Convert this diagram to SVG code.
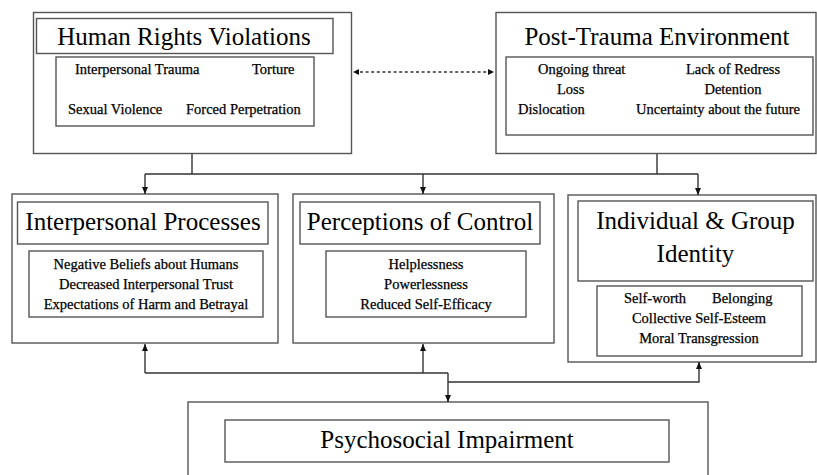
<svg xmlns="http://www.w3.org/2000/svg" width="817" height="475" viewBox="0 0 817 475">
<style>
.box{fill:none;stroke:#555;stroke-width:1.4}
.ln{fill:none;stroke:#333;stroke-width:1.4}
.dot{fill:none;stroke:#333;stroke-width:1.6;stroke-dasharray:3 2.6}
text{font-family:"Liberation Serif","Times New Roman",serif;fill:#000}
.t{font-size:25px;text-anchor:middle}
.s{font-size:14.5px;stroke:#000;stroke-width:0.25}
.c{text-anchor:middle}
</style>
<defs>
<marker id="ah" markerWidth="8" markerHeight="8" refX="7" refY="4" orient="auto" markerUnits="userSpaceOnUse">
<path d="M0,1 L7,4 L0,7 Z" fill="#111"/>
</marker>
</defs>
<rect width="817" height="475" fill="#fff"/>
<g id="human-rights-violations">
<rect class="box" x="33.5" y="12.5" width="318" height="141"/>
<rect class="box" x="36.5" y="18.5" width="296.5" height="35"/>
<text class="t" x="184" y="45">Human Rights Violations</text>
<rect class="box" x="56" y="57" width="258" height="69"/>
<text class="s" x="75" y="74">Interpersonal Trauma</text>
<text class="s" x="252" y="74">Torture</text>
<text class="s" x="68" y="114">Sexual Violence</text>
<text class="s" x="186" y="114">Forced Perpetration</text>
</g>
<g id="post-trauma-environment">
<rect class="box" x="496" y="12.5" width="320" height="141"/>
<text class="t" x="657" y="45">Post-Trauma Environment</text>
<rect class="box" x="506" y="57" width="307" height="78"/>
<text class="s" x="538" y="74">Ongoing threat</text>
<text class="s" x="557" y="94">Loss</text>
<text class="s" x="518" y="114">Dislocation</text>
<text class="s c" x="733" y="74">Lack of Redress</text>
<text class="s c" x="733" y="94">Detention</text>
<text class="s c" x="718" y="114">Uncertainty about the future</text>
</g>
<g id="interpersonal-processes">
<rect class="box" x="12" y="194" width="266" height="149"/>
<rect class="box" x="17.5" y="202" width="250.5" height="42"/>
<text class="t" x="143" y="230">Interpersonal Processes</text>
<rect class="box" x="29" y="251" width="234" height="66"/>
<text class="s c" x="146" y="269">Negative Beliefs about Humans</text>
<text class="s c" x="146" y="289">Decreased Interpersonal Trust</text>
<text class="s c" x="146" y="309">Expectations of Harm and Betrayal</text>
</g>
<g id="perceptions-of-control">
<rect class="box" x="293" y="194" width="261" height="149"/>
<rect class="box" x="300" y="202" width="240" height="42"/>
<text class="t" x="420" y="230">Perceptions of Control</text>
<rect class="box" x="326" y="251" width="200" height="66"/>
<text class="s c" x="426" y="269">Helplessness</text>
<text class="s c" x="426" y="289">Powerlessness</text>
<text class="s c" x="426" y="309">Reduced Self-Efficacy</text>
</g>
<g id="individual-group-identity">
<rect class="box" x="568" y="195" width="248" height="167"/>
<rect class="box" x="578" y="201" width="235" height="80"/>
<text class="t" x="695.5" y="229">Individual &amp; Group</text>
<text class="t" x="695.5" y="262">Identity</text>
<rect class="box" x="597" y="286" width="205" height="70"/>
<text class="s" x="624" y="303">Self-worth</text>
<text class="s" x="712" y="303">Belonging</text>
<text class="s c" x="699" y="323">Collective Self-Esteem</text>
<text class="s c" x="699" y="343">Moral Transgression</text>
</g>
<g id="psychosocial-impairment">
<rect class="box" x="188" y="402" width="520" height="90"/>
<rect class="box" x="225" y="420" width="444" height="42"/>
<text class="t" x="447" y="448">Psychosocial Impairment</text>
</g>
<g id="connectors">
<line class="dot" x1="360" y1="72" x2="487" y2="72"/>
<path d="M359,72 L353,69 L353,75 Z" transform="rotate(180 356 72)" fill="#111"/>
<path d="M488,69 L494,72 L488,75 Z" fill="#111"/>
<path class="ln" d="M192,154 V174 M657,154 V174 M145,174 H698"/>
<path class="ln" d="M145,174 V194" marker-end="url(#ah)"/>
<path class="ln" d="M423,174 V194" marker-end="url(#ah)"/>
<path class="ln" d="M698,174 V195" marker-end="url(#ah)"/>
<path class="ln" d="M145,373 V344" marker-end="url(#ah)"/>
<path class="ln" d="M423,373 V344" marker-end="url(#ah)"/>
<path class="ln" d="M145,373 H448"/>
<path class="ln" d="M448,373 V402" marker-end="url(#ah)"/>
<path class="ln" d="M448,382 H699 V362" marker-end="url(#ah)"/>
</g>
</svg>
